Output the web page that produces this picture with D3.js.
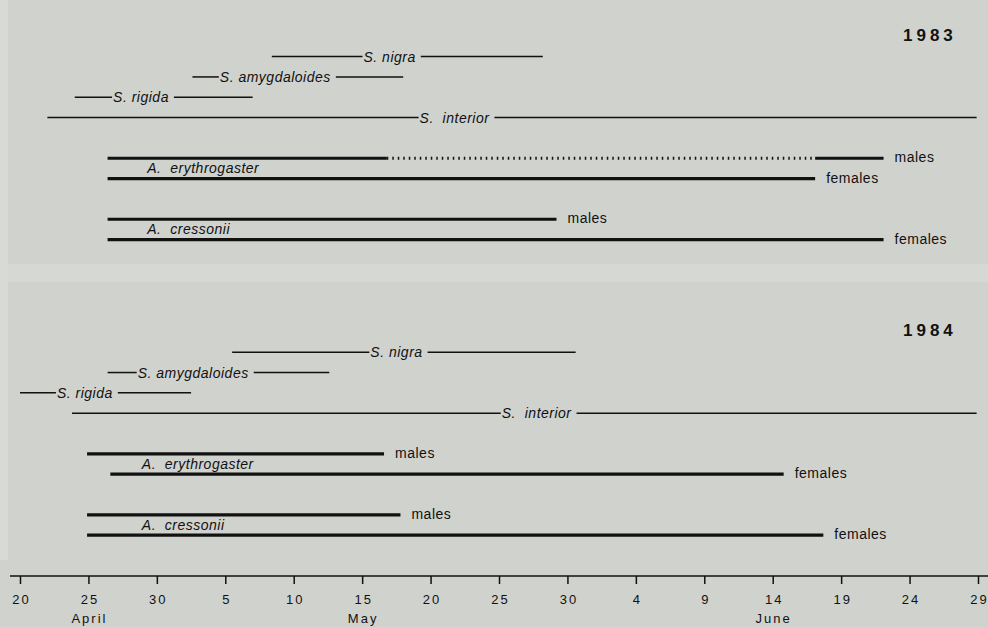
<!DOCTYPE html>
<html lang="en">
<head>
  <meta charset="utf-8">
  <script src="https://d3js.org/d3.v7.min.js"></script>
  <style>
    body { margin: 0; background: #d0d2ce; }
    text { font-family: "Liberation Sans", Arial, sans-serif; fill: #111; }
    .willow { stroke: #111; stroke-width: 1.5px; }
    .fly { stroke: #111; stroke-width: 3.2px; }
    .fly.gap { stroke-dasharray: 1.5 4; stroke-width: 3px; }
    .sp { font-size: 14px; font-style: italic; letter-spacing: 0.5px; white-space: pre; }
    .sex { font-size: 14px; letter-spacing: 0.5px; }
    .year { font-size: 17px; font-weight: bold; letter-spacing: 4px; }
  </style>
</head>
<body>
<script>
// days counted from 20 April
const tickDays = [0, 5, 10, 15, 20, 25, 30, 35, 40, 45, 50, 55, 60, 65, 70];
const tickLabels = ["20", "25", "30", "5", "10", "15", "20", "25", "30", "4", "9", "14", "19", "24", "29"];
const months = ["April", "May", "June"];
const monthDays = [5, 25, 55];

const years = ["1983", "1984"];

// willow flowering periods, label = day where the name sits
const willow1983 = [
  { name: "S. nigra", start: 18.4, end: 38.2, label: 25.1 },
  { name: "S. amygdaloides", start: 12.6, end: 28.0, label: 14.6 },
  { name: "S. rigida", start: 4.0, end: 17.0, label: 6.8 },
  { name: "S.  interior", start: 2.0, end: 69.9, label: 29.2 }
];
const willow1984 = [
  { name: "S. nigra", start: 15.5, end: 40.6, label: 25.6 },
  { name: "S. amygdaloides", start: 6.4, end: 22.6, label: 8.6 },
  { name: "S. rigida", start: 0.0, end: 12.5, label: 2.7 },
  { name: "S.  interior", start: 3.8, end: 69.9, label: 35.2 }
];

// sawfly adult periods; gap = days with no confirmed captures
const sawfly1983 = [
  { species: "A. erythrogaster", sex: "males", start: 6.4, end: 63.1, gap: [26.8, 58.1] },
  { species: "A. erythrogaster", sex: "females", start: 6.4, end: 58.1 },
  { species: "A. cressonii", sex: "males", start: 6.4, end: 39.2 },
  { species: "A. cressonii", sex: "females", start: 6.4, end: 63.1 }
];
const sawfly1984 = [
  { species: "A. erythrogaster", sex: "males", start: 4.9, end: 26.6 },
  { species: "A. erythrogaster", sex: "females", start: 6.6, end: 55.8 },
  { species: "A. cressonii", sex: "males", start: 4.9, end: 27.8 },
  { species: "A. cressonii", sex: "females", start: 4.9, end: 58.7 }
];
const sawflyLabel1983 = [9.3, 9.3];
const sawflyLabel1984 = [8.9, 8.9];

const panels = [
  { year: years[0], willows: willow1983, flies: sawfly1983, labelAt: sawflyLabel1983 },
  { year: years[1], willows: willow1984, flies: sawfly1984, labelAt: sawflyLabel1984 }
];

const width = 988, height = 627;

const svg = d3.select("body").append("svg")
  .attr("width", width)
  .attr("height", height);

// scan-like paper bands
svg.append("rect").attr("x", 0).attr("y", 264).attr("width", width).attr("height", 18).attr("fill", "#d6d8d4");
svg.append("rect").attr("x", 0).attr("y", 0).attr("width", 8).attr("height", 560).attr("fill", "#d8dad6");

const x = d3.scaleLinear().domain([0, 70]).range([20, 978]);

const rows = ["S. nigra", "S. amygdaloides", "S. rigida", "S.  interior", "",
  "A. erythrogaster males", "A. erythrogaster females", " ",
  "A. cressonii males", "A. cressonii females"];
const y = d3.scalePoint().domain(rows).range([0, 183]);

panels.forEach((p, i) => {
  const g = svg.append("g").attr("transform", `translate(0,${56.6 + i * 295.6})`);

  g.append("text")
    .attr("class", "year")
    .attr("x", 903)
    .attr("y", -16)
    .text(p.year);

  // willows: line broken by the name
  p.willows.forEach(w => {
    const t = g.append("text")
      .attr("class", "sp")
      .attr("x", x(w.label))
      .attr("y", y(w.name) + 5)
      .text(w.name);
    const len = t.node().getComputedTextLength();
    g.append("line").attr("class", "willow")
      .attr("x1", x(w.start)).attr("x2", x(w.label) - 1)
      .attr("y1", y(w.name)).attr("y2", y(w.name));
    g.append("line").attr("class", "willow")
      .attr("x1", x(w.label) + len + 5).attr("x2", x(w.end))
      .attr("y1", y(w.name)).attr("y2", y(w.name));
  });

  // sawflies
  p.flies.forEach(f => {
    const yy = y(f.species + " " + f.sex);
    const parts = f.gap
      ? [[f.start, f.gap[0], false], [f.gap[0], f.gap[1], true], [f.gap[1], f.end, false]]
      : [[f.start, f.end, false]];
    parts.forEach(s => {
      g.append("line")
        .attr("class", s[2] ? "fly gap" : "fly")
        .attr("x1", x(s[0])).attr("x2", x(s[1]))
        .attr("y1", yy).attr("y2", yy);
    });
    g.append("text")
      .attr("class", "sex")
      .attr("x", x(f.end) + 11)
      .attr("y", yy + 4)
      .text(f.sex);
  });

  const species = Array.from(new Set(p.flies.map(f => f.species)));
  species.forEach((s, k) => {
    const mid = (y(s + " males") + y(s + " females")) / 2;
    g.append("text")
      .attr("class", "sp")
      .attr("x", x(p.labelAt[k]))
      .attr("y", mid + 4.5)
      .text(s.replace(". ", ".  "));
  });
});

// date axis
const axis = svg.append("g")
  .attr("transform", "translate(0,576)")
  .call(d3.axisBottom(x)
    .tickValues(tickDays)
    .tickSize(8)
    .tickSizeOuter(0)
    .tickFormat((d, i) => tickLabels[i]));

axis.select(".domain").attr("d", "M10,0H988").attr("stroke", "#111").attr("stroke-width", 1.5);
axis.selectAll(".tick line").attr("stroke", "#111").attr("stroke-width", 1.5);
axis.selectAll(".tick text")
  .attr("y", 28)
  .attr("dy", 0)
  .attr("dx", 1)
  .style("font-size", "13px")
  .style("letter-spacing", "2px")
  .style("font-family", "'Liberation Sans', Arial, sans-serif")
  .attr("fill", "#111");

svg.selectAll(".month")
  .data(months)
  .enter().append("text")
  .attr("class", "month")
  .attr("x", (d, i) => x(monthDays[i]) + 1)
  .attr("y", 623)
  .attr("text-anchor", "middle")
  .style("font-size", "13px")
  .style("letter-spacing", "2px")
  .text(d => d);
</script>
</body>
</html>
